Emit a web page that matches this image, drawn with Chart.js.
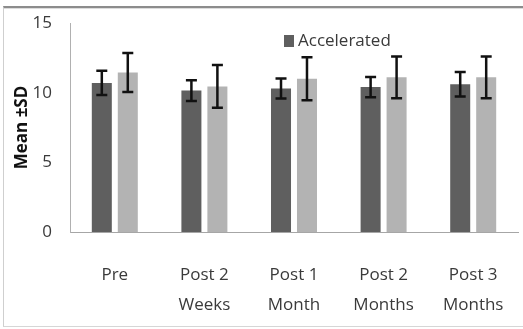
<!DOCTYPE html>
<html>
<head>
<meta charset="utf-8">
<script src="https://cdn.jsdelivr.net/npm/chart.js@4.4.0/dist/chart.umd.min.js"></script>
<style>
  body { margin: 0; background: #fff; }
  #wrap { position: relative; width: 523px; height: 329px; }
  #frame { position: absolute; left: 3px; top: 6px; right: 0; bottom: 2px;
    border-top: 2px solid #8c8c8c; border-left: 1px solid #cfcfcf; border-bottom: 1px solid #d6d6d6;
    box-shadow: inset 0 1px 0 #dcdcdc; pointer-events: none; }
</style>
</head>
<body>
<div id="wrap">
  <canvas id="myChart" width="523" height="329"></canvas>
  <div id="frame"></div>
</div>
<script>
const categories = [["Pre"], ["Post 2", "Weeks"], ["Post 1", "Month"], ["Post 2", "Months"], ["Post 3", "Months"]];
const acceleratedMean = [10.7, 10.15, 10.3, 10.4, 10.6];
const acceleratedSD = [0.87, 0.75, 0.72, 0.73, 0.88];
const otherMean = [11.45, 10.45, 11.0, 11.1, 11.1];
const otherSD = [1.4, 1.53, 1.55, 1.5, 1.5];
const yTicks = [0, 5, 10, 15];

const textColor = "#3a3a3a";
const fontFam = "'Open Sans', sans-serif";

// error bars drawn on top of the bars
const errorBars = {
  id: "errorBars",
  afterDatasetsDraw(chart) {
    const ctx = chart.ctx;
    const y = chart.scales.y;
    ctx.save();
    ctx.strokeStyle = "#111";
    ctx.lineWidth = 2.5;
    chart.data.datasets.forEach((ds, i) => {
      const meta = chart.getDatasetMeta(i);
      meta.data.forEach((bar, j) => {
        const hi = y.getPixelForValue(ds.data[j] + ds.sd[j]);
        const lo = y.getPixelForValue(ds.data[j] - ds.sd[j]);
        ctx.beginPath();
        ctx.moveTo(bar.x, hi); ctx.lineTo(bar.x, lo);
        ctx.moveTo(bar.x - 5.5, hi); ctx.lineTo(bar.x + 5.5, hi);
        ctx.moveTo(bar.x - 5.5, lo); ctx.lineTo(bar.x + 5.5, lo);
        ctx.stroke();
      });
    });
    ctx.restore();
  }
};

// single legend entry placed inside the plot
const innerLegend = {
  id: "innerLegend",
  afterDraw(chart) {
    const ctx = chart.ctx;
    const ds = chart.data.datasets[0];
    ctx.save();
    ctx.fillStyle = ds.backgroundColor;
    ctx.fillRect(284, 35, 10, 12);
    ctx.fillStyle = textColor;
    ctx.font = "17px " + fontFam;
    ctx.textBaseline = "middle";
    ctx.fillText(ds.label, 298, 41);
    ctx.restore();
  }
};

new Chart(document.getElementById("myChart"), {
  type: "bar",
  data: {
    labels: categories,
    datasets: [
      { label: "Accelerated", data: acceleratedMean, sd: acceleratedSD, backgroundColor: "#5f5f5f" },
      { label: "Conventional", data: otherMean, sd: otherSD, backgroundColor: "#b3b3b3" }
    ]
  },
  options: {
    responsive: false,
    animation: false,
    categoryPercentage: 0.58,
    barPercentage: 0.77,
    layout: { padding: { top: 23, right: 5, bottom: 11, left: 4 } },
    plugins: { legend: { display: false }, tooltip: { enabled: false } },
    scales: {
      x: {
        grid: { display: false, drawTicks: false },
        border: { display: true, color: "#a6a6a6", width: 1 },
        ticks: { color: textColor, padding: 28, font: { family: fontFam, size: 17, lineHeight: 30 / 17 } },
        afterFit(s) { s.height = 86; s.paddingLeft = 0; s.paddingRight = 0; }
      },
      y: {
        min: 0, max: 15,
        afterBuildTicks(s) { s.ticks = yTicks.map(v => ({ value: v })); },
        grid: { display: false, drawTicks: false },
        border: { display: true, color: "#b0b0b0", width: 1 },
        ticks: { color: textColor, padding: 18, font: { family: fontFam, size: 17 } },
        title: { display: true, text: "Mean ±SD", color: "#111", padding: { top: 8, bottom: 0 },
          font: { family: fontFam, size: 17, weight: "bold" } },
        afterFit(s) { s.width = 66; s.paddingTop = 0; s.paddingBottom = 0; }
      }
    }
  },
  plugins: [errorBars, innerLegend]
});
</script>
</body>
</html>
